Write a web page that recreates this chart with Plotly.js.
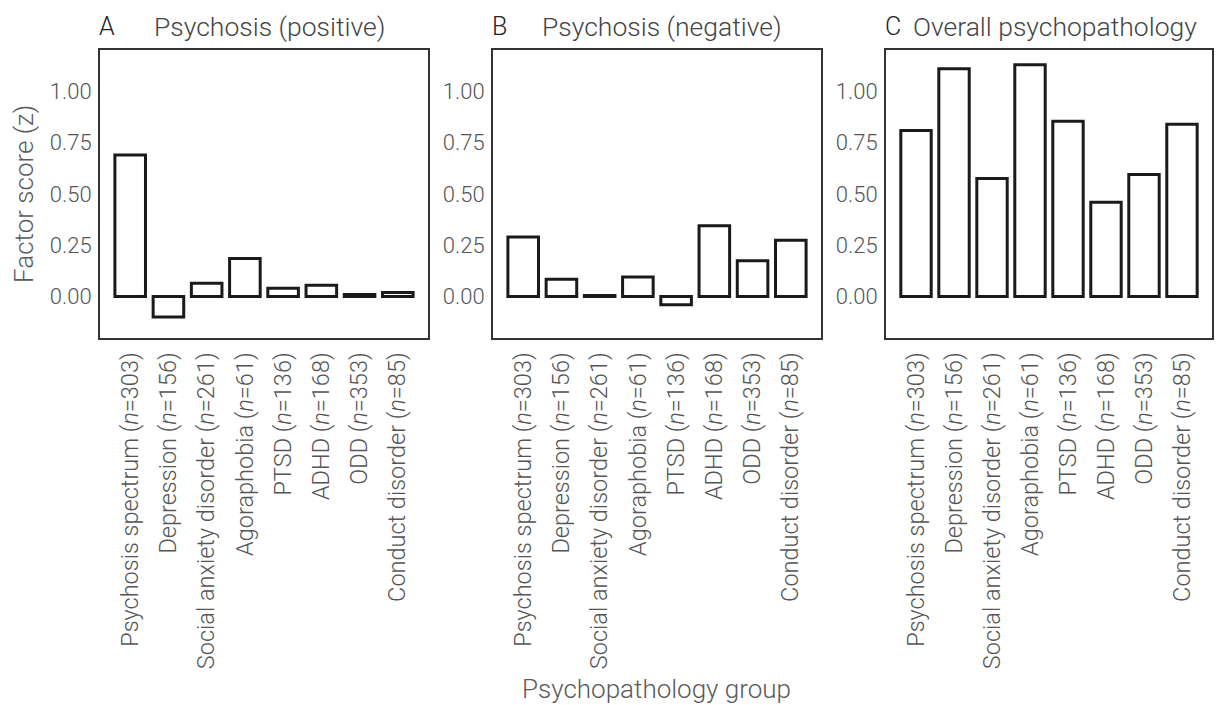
<!DOCTYPE html>
<html>
<head>
<meta charset="utf-8">
<script src="https://cdn.plot.ly/plotly-3.0.1.min.js"></script>
<style>html,body{margin:0;padding:0;background:#fff;}#chart{width:1216px;height:705px;}</style>
</head>
<body>
<div id="chart"></div>
<script>
const categories = ['Psychosis spectrum','Depression','Social anxiety disorder','Agoraphobia','PTSD','ADHD','ODD','Conduct disorder'];
const groupN = [303,156,261,61,136,168,353,85];
const positiveScores = [0.69,-0.10,0.065,0.185,0.04,0.055,0.01,0.02];
const negativeScores = [0.29,0.085,0.005,0.095,-0.04,0.345,0.175,0.275];
const overallScores = [0.81,1.11,0.575,1.13,0.855,0.46,0.595,0.84];
const panelLetters = ['A','B','C'];
const panelTitles = ['Psychosis (positive)','Psychosis (negative)','Overall psychopathology'];
const yTickVals = [0,0.25,0.5,0.75,1];
const yTickText = ['0.00','0.25','0.50','0.75','1.00'];

const tickLabels = categories.map((c,i)=>c+' (<i>n</i>='+groupN[i]+')');
const series = [positiveScores, negativeScores, overallScores];

const FONT = 'Roboto, "Noto Sans", sans-serif';
const W = 1216, H = 705;
const xDomPx = [[100,428],[493,821],[886,1212]];
const yDom = [1-338/H, 1-50/H];

const traces = series.map((vals,k)=>({
  type:'bar',
  x: categories,
  y: vals,
  xaxis: k===0?'x':'x'+(k+1),
  yaxis: k===0?'y':'y'+(k+1),
  width: 0.8,
  marker:{color:'#ffffff', line:{color:'#1a1a1a', width:3}},
  hoverinfo:'x+y',
  showlegend:false
}));

const layout = {
  width: W, height: H,
  margin:{l:0,r:0,t:0,b:0},
  paper_bgcolor:'#ffffff', plot_bgcolor:'#ffffff',
  font:{family:FONT, color:'#555555', size:21, weight:300},
  annotations:[],
  bargap:0
};

for(let k=0;k<3;k++){
  const sx = k===0?'':String(k+1);
  layout['xaxis'+sx] = {
    domain:[xDomPx[k][0]/W, xDomPx[k][1]/W],
    anchor:'y'+sx,
    type:'category',
    range:[-0.79,7.79],
    tickmode:'array',
    tickvals:categories,
    ticktext:tickLabels,
    tickangle:-90,
    ticks:'',
    ticklabelstandoff:3,
    tickfont:{family:FONT,size:23.5,color:'#555555',weight:300},
    showgrid:false, zeroline:false,
    showline:true, mirror:true, linecolor:'#333333', linewidth:2,
    automargin:false, fixedrange:true
  };
  layout['yaxis'+sx] = {
    domain:yDom,
    anchor:'x'+sx,
    range:[-0.202,1.202],
    tickmode:'array',
    tickvals:yTickVals,
    ticktext:yTickText,
    ticks:'',
    ticklabelstandoff:2,
    tickfont:{family:FONT,size:22,color:'#555555',weight:300},
    showgrid:false, zeroline:false,
    showline:true, mirror:true, linecolor:'#333333', linewidth:2,
    automargin:false, fixedrange:true
  };
  const left = xDomPx[k][0]/W, right = xDomPx[k][1]/W;
  layout.annotations.push({
    xref:'paper', yref:'paper', x:left-3/W, y:1-27/H,
    xanchor:'left', yanchor:'middle', showarrow:false,
    text:panelLetters[k],
    font:{family:FONT,size:25,color:'#222222',weight:300}
  });
  layout.annotations.push({
    xref:'paper', yref:'paper', x:(left+right)/2+(k===2?6:5)/W, y:1-27/H,
    xanchor:'center', yanchor:'middle', showarrow:false,
    text:panelTitles[k],
    font:{family:FONT,size:26.5,color:'#444444',weight:300}
  });
}
layout.annotations.push({
  xref:'paper', yref:'paper', x:24/W, y:1-194/H,
  xanchor:'center', yanchor:'middle', showarrow:false, textangle:-90,
  text:'Factor score (z)',
  font:{family:FONT,size:26,color:'#5a5a5a',weight:300}
});
layout.annotations.push({
  xref:'paper', yref:'paper', x:656/W, y:1-689/H,
  xanchor:'center', yanchor:'middle', showarrow:false,
  text:'Psychopathology group',
  font:{family:FONT,size:26,color:'#5a5a5a',weight:300}
});

Plotly.newPlot('chart', traces, layout, {displayModeBar:false, staticPlot:true});
</script>
</body>
</html>
